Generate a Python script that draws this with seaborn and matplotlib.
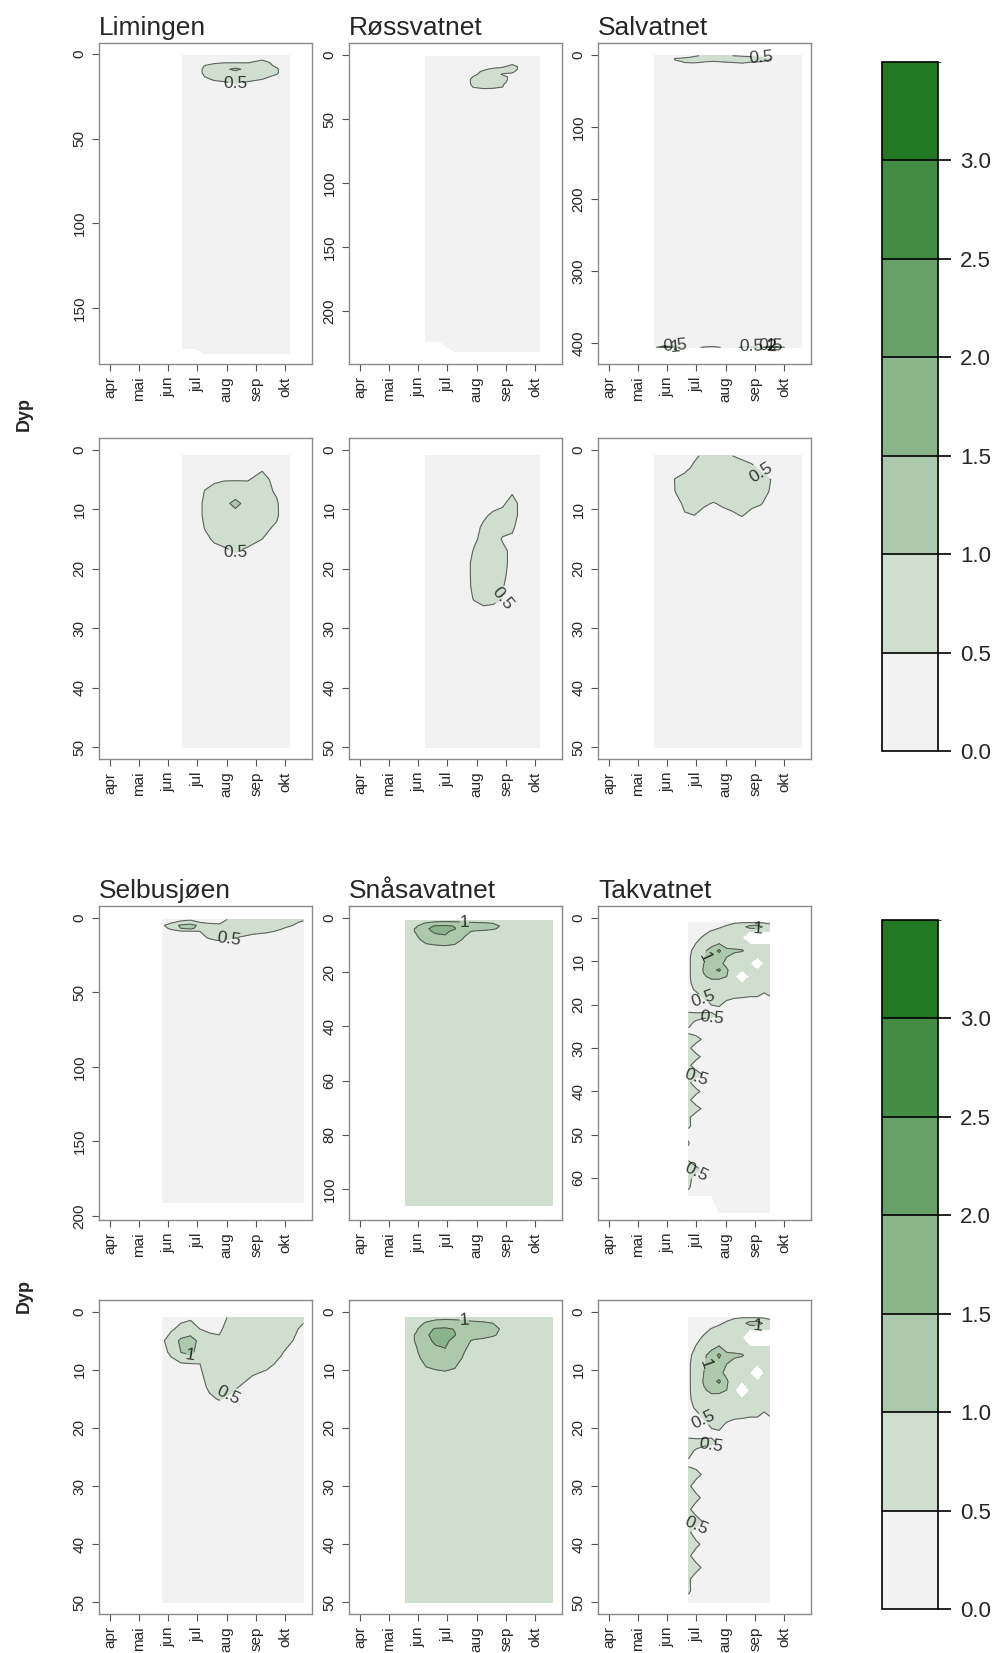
import numpy as np
import matplotlib
matplotlib.use("Agg")
import matplotlib.pyplot as plt
import seaborn as sns
from matplotlib.colors import ListedColormap, BoundaryNorm
from matplotlib.cm import ScalarMappable
from matplotlib.ticker import MultipleLocator

sns.set_style("white")
plt.rcParams['font.family'] = ['Liberation Sans', 'DejaVu Sans']

nan = np.nan

# ---------------- data ----------------
month_labels = ["apr", "mai", "jun", "jul", "aug", "sep", "okt"]
month_days = [91, 121, 152, 182, 213, 244, 274]
levels = [0.0, 0.5, 1.0, 1.5, 2.0, 2.5, 3.0, 3.5]
line_levels = [0.5, 1.0, 1.5, 2.0, 2.5, 3.0]
cbar_ticks = [0.0, 0.5, 1.0, 1.5, 2.0, 2.5, 3.0]
ylabel_text = "Dyp"

# Limingen
limingen_days = [167, 180, 190, 200, 210, 222, 235, 250, 265, 279]
limingen_depths = [1, 3, 5, 7, 9, 11, 13, 15, 17, 20, 30, 50, 100, 150, 174, 177]
limingen_values = [
    [.10, .10, .20, .20, .20, .30, .30, .40, .20, .10],
    [.10, .20, .30, .35, .40, .40, .40, .45, .30, .10],
    [.10, .20, .35, .45, .48, .48, .48, .62, .38, .10],
    [.10, .20, .52, .60, .65, .70, .65, .65, .45, .10],
    [.10, .25, .60, .75, .85, 1.15, .80, .70, .55, .15],
    [.10, .25, .60, .70, .75, .80, .75, .70, .56, .15],
    [.10, .25, .52, .65, .70, .70, .70, .60, .45, .10],
    [.10, .20, .42, .55, .60, .65, .60, .50, .35, .10],
    [.10, .20, .30, .40, .45, .52, .45, .40, .30, .10],
    [.10, .10, .20, .30, .30, .30, .30, .30, .20, .10],
    [.10, .10, .10, .15, .15, .15, .15, .15, .10, .10],
    [.10, .10, .10, .10, .10, .10, .10, .10, .10, .10],
    [.10, .10, .10, .10, .10, .10, .10, .10, .10, .10],
    [.10, .10, .10, .10, .10, .10, .10, .10, .10, .10],
    [.10, .10, .10, .10, .10, .10, .10, .10, .10, .10],
    [nan, nan, .10, .10, .10, .10, .10, .10, .10, .10],
]

# Røssvatnet
rossvatnet_days = [159, 175, 190, 200, 210, 220, 230, 240, 250, 260, 270, 279]
rossvatnet_depths = [1, 4, 7, 9, 11, 13, 15, 17, 19, 21, 23, 25, 27, 30, 40, 50,
                     100, 150, 200, 224, 232]
rossvatnet_values = [
    [.10, .10, .10, .10, .15, .20, .20, .20, .25, .20, .15, .10],
    [.10, .10, .10, .15, .20, .25, .25, .30, .35, .30, .20, .10],
    [.10, .10, .15, .20, .25, .30, .30, .35, .46, .35, .20, .10],
    [.10, .10, .15, .20, .30, .35, .40, .45, .62, .40, .20, .10],
    [.10, .10, .20, .25, .35, .45, .55, .60, .62, .40, .20, .10],
    [.10, .10, .20, .30, .40, .55, .60, .58, .55, .35, .20, .10],
    [.10, .10, .20, .30, .45, .58, .60, .48, .45, .30, .20, .10],
    [.10, .10, .20, .35, .52, .62, .60, .55, .45, .30, .20, .10],
    [.10, .15, .25, .40, .56, .65, .62, .58, .42, .30, .20, .10],
    [.10, .15, .25, .40, .56, .65, .62, .56, .40, .30, .20, .10],
    [.10, .15, .25, .40, .55, .62, .60, .52, .35, .25, .20, .10],
    [.10, .10, .20, .35, .52, .58, .55, .50, .30, .20, .15, .10],
    [.10, .10, .20, .30, .40, .45, .45, .40, .25, .20, .15, .10],
    [.10, .10, .15, .20, .25, .30, .30, .25, .20, .15, .10, .10],
    [.10, .10, .10, .10, .10, .10, .10, .10, .10, .10, .10, .10],
    [.10, .10, .10, .10, .10, .10, .10, .10, .10, .10, .10, .10],
    [.10, .10, .10, .10, .10, .10, .10, .10, .10, .10, .10, .10],
    [.10, .10, .10, .10, .10, .10, .10, .10, .10, .10, .10, .10],
    [.10, .10, .10, .10, .10, .10, .10, .10, .10, .10, .10, .10],
    [.10, .10, .10, .10, .10, .10, .10, .10, .10, .10, .10, .10],
    [nan, nan, .10, .10, .10, .10, .10, .10, .10, .10, .10, .10],
]

# Salvatnet
salvatnet_days = [138, 150, 160, 170, 180, 190, 200, 210, 220, 230, 240, 250, 260, 275, 292]
salvatnet_depths = [1, 3, 5, 7, 9, 11, 13, 15, 20, 30, 50, 100, 200, 300, 400, 403, 406]
salvatnet_values = [
    [.10, .10, .20, .30, .45, .55, .60, .60, .50, .45, .40, .35, .20, .10, .10],
    [.10, .15, .30, .42, .55, .65, .70, .70, .65, .60, .55, .45, .30, .10, .10],
    [.10, .20, .52, .60, .65, .70, .75, .75, .70, .65, .60, .58, .50, .15, .10],
    [.10, .20, .50, .60, .65, .70, .72, .70, .70, .65, .60, .58, .48, .15, .10],
    [.10, .15, .40, .55, .60, .55, .48, .55, .60, .60, .58, .52, .35, .10, .10],
    [.10, .10, .30, .48, .50, .40, .35, .40, .45, .52, .40, .35, .20, .10, .10],
    [.10, .10, .20, .30, .30, .30, .30, .30, .30, .30, .30, .20, .15, .10, .10],
    [.10, .10, .15, .20, .20, .20, .20, .20, .20, .20, .20, .15, .10, .10, .10],
    [.10, .10, .10, .10, .10, .10, .10, .10, .10, .10, .10, .10, .10, .10, .10],
    [.10, .10, .10, .10, .10, .10, .10, .10, .10, .10, .10, .10, .10, .10, .10],
    [.10, .10, .10, .10, .10, .10, .10, .10, .10, .10, .10, .10, .10, .10, .10],
    [.10, .10, .10, .10, .10, .10, .10, .10, .10, .10, .10, .10, .10, .10, .10],
    [.10, .10, .10, .10, .10, .10, .10, .10, .10, .10, .10, .10, .10, .10, .10],
    [.10, .10, .10, .10, .10, .10, .10, .10, .10, .10, .10, .10, .10, .10, .10],
    [.10, .10, .10, .10, .10, .10, .10, .10, .10, .10, .10, .10, .10, .10, .10],
    [.10, .10, .10, .10, .10, .10, .10, .10, .10, .10, .10, .10, .10, .10, .10],
    [.10, 2.30, 1.20, .40, .30, .60, .80, .40, .30, .60, .90, .50, 3.20, .40, .10],
]

# Selbusjøen
selbusjoen_days = [146, 155, 165, 175, 185, 195, 205, 215, 225, 240, 255, 270, 282, 293]
selbusjoen_depths = [1, 3, 5, 7, 9, 11, 13, 15, 17, 20, 30, 50, 100, 150, 191]
selbusjoen_values = [
    [.20, .30, .40, .45, .40, .35, .40, .52, .60, .60, .60, .60, .60, .55],
    [.30, .45, .60, .65, .50, .45, .45, .60, .65, .65, .65, .60, .55, .45],
    [.45, .70, 1.10, 1.25, .85, .60, .55, .65, .70, .70, .65, .60, .50, .35],
    [.35, .60, 1.00, 1.15, .75, .60, .60, .65, .70, .65, .60, .52, .40, .30],
    [.20, .35, .45, .48, .50, .60, .65, .65, .65, .60, .55, .45, .30, .20],
    [.15, .20, .30, .35, .45, .60, .65, .58, .55, .50, .45, .30, .20, .20],
    [.15, .20, .25, .30, .40, .55, .65, .60, .50, .40, .30, .20, .20, .20],
    [.10, .15, .20, .25, .35, .45, .52, .45, .40, .30, .25, .20, .20, .20],
    [.10, .10, .20, .20, .30, .35, .35, .35, .30, .30, .25, .20, .20, .20],
    [.10, .10, .15, .15, .20, .20, .20, .20, .20, .20, .20, .20, .20, .20],
    [.10, .10, .10, .10, .10, .10, .10, .10, .10, .10, .10, .10, .10, .10],
    [.10, .10, .10, .10, .10, .10, .10, .10, .10, .10, .10, .10, .10, .10],
    [.10, .10, .10, .10, .10, .10, .10, .10, .10, .10, .10, .10, .10, .10],
    [.10, .10, .10, .10, .10, .10, .10, .10, .10, .10, .10, .10, .10, .10],
    [.10, .10, .10, .10, .10, .10, .10, .10, .10, .10, .10, .10, .10, .10],
]

# Snåsavatnet
snasavatnet_days = [139, 150, 160, 170, 180, 190, 200, 210, 220, 230, 240, 255, 270, 292]
snasavatnet_depths = [1, 2, 3, 4, 5, 6, 7, 8, 10, 12, 15, 20, 50, 100, 106]
snasavatnet_values = [
    [.70, .75, .80, .85, .90, .90, .90, .90, .85, .80, .75, .70, .70, .70],
    [.70, .85, 1.05, 1.20, 1.20, 1.15, 1.10, 1.05, 1.05, 1.00, .90, .75, .70, .70],
    [.75, .95, 1.35, 1.55, 1.58, 1.48, 1.30, 1.20, 1.15, 1.10, .95, .75, .70, .70],
    [.80, 1.05, 1.45, 1.62, 1.62, 1.52, 1.30, 1.20, 1.15, 1.05, .90, .75, .70, .70],
    [.80, 1.05, 1.40, 1.57, 1.57, 1.40, 1.10, .95, .90, .85, .80, .75, .70, .70],
    [.80, 1.00, 1.30, 1.48, 1.52, 1.30, 1.05, .90, .85, .80, .75, .70, .70, .70],
    [.75, .95, 1.25, 1.40, 1.45, 1.20, 1.00, .85, .80, .80, .75, .70, .70, .70],
    [.75, .90, 1.15, 1.25, 1.30, 1.15, .95, .85, .80, .75, .70, .70, .70, .70],
    [.70, .80, .95, 1.00, 1.02, .98, .90, .80, .75, .70, .70, .70, .70, .70],
    [.70, .75, .80, .85, .85, .85, .80, .75, .70, .70, .70, .70, .70, .70],
    [.70, .70, .70, .70, .70, .70, .70, .70, .70, .70, .70, .70, .70, .70],
    [.70, .70, .70, .70, .70, .70, .70, .70, .70, .70, .70, .70, .70, .70],
    [.70, .70, .70, .70, .70, .70, .70, .70, .70, .70, .70, .70, .70, .70],
    [.70, .70, .70, .70, .70, .70, .70, .70, .70, .70, .70, .70, .70, .70],
    [.70, .70, .70, .70, .70, .70, .70, .70, .70, .70, .70, .70, .70, .70],
]

# Takvatnet (upper water column)
takvatnet_days = [174, 182, 190, 198, 206, 214, 222, 230, 238, 246, 253, 259]
takvatnet_upper_depths = [1, 2, 3, 4.5, 6, 7.5, 9, 10.5, 12, 13.5, 15, 16.5, 18, 19.5,
                          21, 22.5, 24]
takvatnet_upper_values = [
    [.20, .20, .25, .30, .35, .40, .45, .48, .48, .45, .45, .40],
    [.20, .25, .30, .35, .45, .55, .70, .80, 1.20, 1.30, .90, .70],
    [.20, .30, .40, .52, .60, .65, .70, .65, .60, .60, .60, .55],
    [.25, .40, .55, .65, .75, .75, .70, .65, nan, nan, nan, nan],
    [.30, .52, .70, .85, 1.02, .80, .70, .65, .60, .60, .60, .60],
    [.40, .65, .90, 1.20, 1.60, 1.10, 1.10, 1.05, .80, .65, .60, .60],
    [.45, .65, .95, 1.25, 1.30, 1.00, .80, .70, .65, .65, .60, .60],
    [.45, .65, 1.00, 1.20, 1.10, .90, .75, .70, .65, nan, .60, .60],
    [.45, .65, 1.05, 1.30, 1.60, 1.05, .75, .70, .65, .65, .60, .60],
    [.45, .65, .95, 1.10, 1.10, 1.00, .75, nan, .70, .65, .60, .60],
    [.45, .60, .75, .85, .85, .80, .70, .65, .65, .65, .60, .60],
    [.40, .55, .65, .70, .70, .70, .65, .65, .65, .60, .60, .60],
    [.30, .40, .55, .65, .65, .60, .55, .55, .52, .52, .40, .50],
    [.25, .30, .40, .55, .58, .45, .40, .35, .30, .30, .30, .30],
    [.30, .30, .35, .42, .45, .35, .30, .30, .30, .30, .30, .30],
    [.70, .65, .62, .58, .45, .30, .30, .30, .30, .30, .30, .30],
    [.60, .45, .35, .30, .30, .30, .30, .30, .30, .30, .30, .30],
]
# Takvatnet (deeper water column: first sampling dates vary, rest background)
takvatnet_deep_depths = [26, 28, 30, 32, 34, 36, 38, 40, 42, 44, 46, 48, 50, 52, 54,
                         56, 58, 60, 62, 64, 68]
takvatnet_deep_first = [.45, .60, .58, .60, .58, .60, .58, .62, .58, .62, .56, .52,
                        .45, .52, .45, .50, .62, .64, .56, .40, nan]
takvatnet_deep_second = [.30, .65, .30, .62, .30, .66, .30, .60, .30, .64, .30, .45,
                         .30, .30, .30, .30, .60, .30, .30, .30, nan]
takvatnet_deep_third = [.30, .42, .30, .40, .30, .44, .30, .40, .30, .42, .30, .30,
                        .30, .30, .30, .30, .40, .30, .30, .30, nan]
takvatnet_deep_fourth = [.30, .30, .30, .30, .30, .30, .30, .30, .30, .30, .30, .30,
                         .30, .30, .30, .30, .30, .30, .30, .30, nan]
takvatnet_deep_rest = [.30, .30, .30, .30, .30, .30, .30, .30, .30, .30, .30, .30,
                       .30, .30, .30, .30, .30, .30, .30, .30, .30]

takvatnet_depths = takvatnet_upper_depths + takvatnet_deep_depths
takvatnet_values = takvatnet_upper_values + [
    [a, b, c, d] + [r] * 8
    for a, b, c, d, r in zip(takvatnet_deep_first, takvatnet_deep_second,
                             takvatnet_deep_third, takvatnet_deep_fourth,
                             takvatnet_deep_rest)
]

# ---------------- style ----------------
fill_colors = sns.blend_palette(["#f2f2f2", "#227822"], n_colors=7)
line_color = "#3a3a3a"
FW, FH = 1000, 1653

fig = plt.figure(figsize=(FW / 100, FH / 100), dpi=100)


def add_ax(x0, x1, y0, y1):
    return fig.add_axes([x0 / FW, 1 - y1 / FH, (x1 - x0) / FW, (y1 - y0) / FH])


def draw_panel(ax, days, depths, values, ylim, ystep, label_levels,
               title=None, max_depth=None):
    Z = np.array(values, dtype=float)
    d = np.array(depths, dtype=float)
    if max_depth is not None:
        keep = d <= max_depth
        d = d[keep]
        Z = Z[keep]
    Zm = np.ma.masked_invalid(Z)
    ax.contourf(days, d, Zm, levels=levels, colors=fill_colors)
    cs = ax.contour(days, d, Zm, levels=line_levels, colors=line_color,
                    linewidths=0.8, alpha=0.75)
    present = [lv for lv in label_levels if lv in list(cs.levels)]
    if present:
        ax.clabel(cs, levels=present, fmt=lambda v: f"{v:g}", fontsize=12.5,
                  inline=True, inline_spacing=2, colors="black")
    ax.set_xlim(79.5, 302)
    ax.set_ylim(*ylim)
    ax.set_xticks(month_days)
    ax.set_xticklabels(month_labels, rotation=90, fontsize=11)
    ax.yaxis.set_major_locator(MultipleLocator(ystep))
    for lab in ax.get_yticklabels():
        lab.set_rotation(90)
        lab.set_va("center")
        lab.set_fontsize(11)
    ax.tick_params(axis="both", direction="out", length=5, width=0.8,
                   color="#555555", pad=4, left=True, bottom=True)
    for sp in ax.spines.values():
        sp.set_color("#8a8a8a")
        sp.set_linewidth(1.0)
    ax.set_xlabel("")
    ax.set_ylabel("")
    if title:
        ax.set_title(title, loc="left", fontsize=19, pad=6)


cols = [(99, 312), (349, 562), (598, 811)]
top_rows = [(43, 364), (438, 759)]
bot_rows = [(906, 1220), (1300, 1614)]

# name, days, depths, values, ylim (full column), y step, labelled levels (top, zoomed)
top_lakes = [
    ("Limingen", limingen_days, limingen_depths, limingen_values, (183.2, -6.5), 50,
     [0.5], [0.5]),
    ("Røssvatnet", rossvatnet_days, rossvatnet_depths, rossvatnet_values, (241.4, -9.4), 50,
     [], [0.5]),
    ("Salvatnet", salvatnet_days, salvatnet_depths, salvatnet_values, (429, -16.7), 100,
     [0.5, 1.0, 2.0, 3.0], [0.5]),
]
bot_lakes = [
    ("Selbusjøen", selbusjoen_days, selbusjoen_depths, selbusjoen_values, (202.7, -8.0), 50,
     [0.5], [0.5, 1.0]),
    ("Snåsavatnet", snasavatnet_days, snasavatnet_depths, snasavatnet_values, (111.4, -4.4), 20,
     [1.0], [1.0]),
    ("Takvatnet", takvatnet_days, takvatnet_depths, takvatnet_values, (69.7, -2.8), 10,
     [0.5, 1.0], [0.5, 1.0]),
]

for rows, lakes in [(top_rows, top_lakes), (bot_rows, bot_lakes)]:
    for (x0, x1), (name, days, depths, vals, ylim, ystep, lab1, lab2) in zip(cols, lakes):
        ax1 = add_ax(x0, x1, rows[0][0], rows[0][1])
        draw_panel(ax1, days, depths, vals, ylim, ystep, lab1, title=name)
        ax2 = add_ax(x0, x1, rows[1][0], rows[1][1])
        draw_panel(ax2, days, depths, vals, (52.0, -2.0), 10, lab2, max_depth=50)

# colour bars
cmap = ListedColormap(fill_colors)
norm = BoundaryNorm(levels, cmap.N)
for (ytop, ybot) in [(62, 751), (920, 1609)]:
    cax = add_ax(882, 938, ytop, ybot)
    sm = ScalarMappable(norm=norm, cmap=cmap)
    cb = fig.colorbar(sm, cax=cax, ticks=cbar_ticks, drawedges=True)
    cb.outline.set_edgecolor("black")
    cb.outline.set_linewidth(1.2)
    cb.dividers.set_color("black")
    cb.dividers.set_linewidth(1.2)
    cb.ax.tick_params(length=9, width=1.2, labelsize=16, pad=7, color="black")
    cb.ax.set_yticklabels([f"{t:.1f}" for t in cbar_ticks])

# "Dyp" labels
for yc in [414, 1296]:
    fig.text(24.5 / FW, 1 - yc / FH, ylabel_text, rotation=90, fontsize=13,
             fontweight="bold", ha="center", va="center")

fig.savefig("out.png", dpi=100, facecolor="white")
